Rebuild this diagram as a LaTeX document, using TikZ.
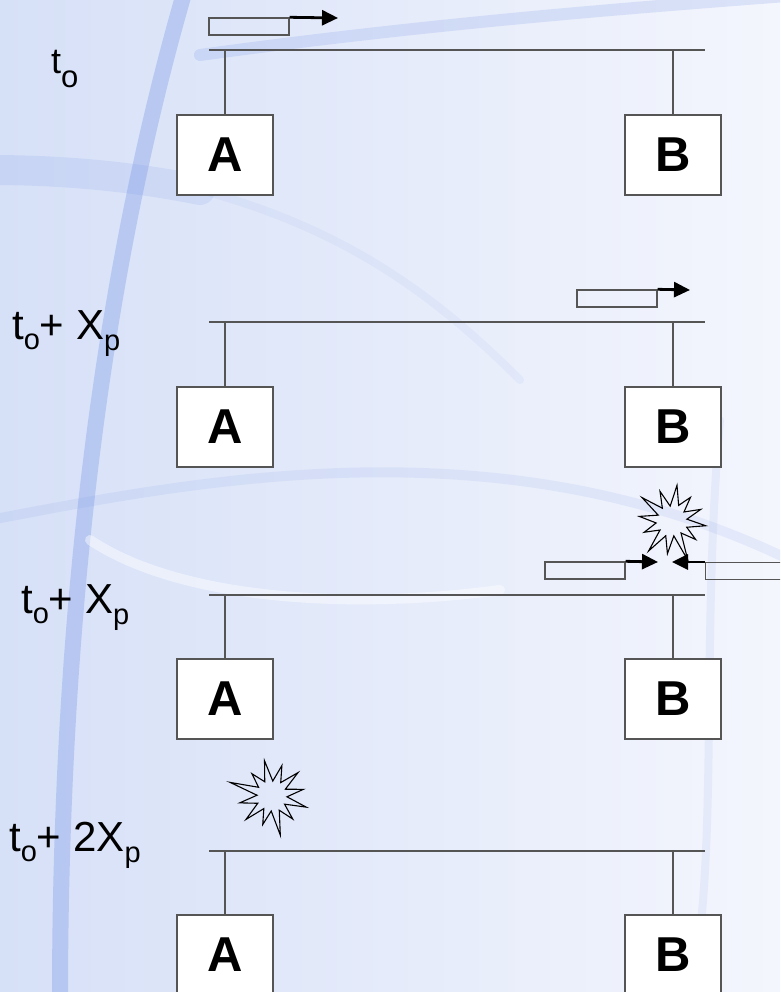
\documentclass[tikz,border=0pt]{standalone}
\usepackage{fontspec}
\setmainfont{Liberation Sans}
\usetikzlibrary{arrows.meta}
\definecolor{bgl}{RGB}{214,224,247}
\definecolor{bgr}{RGB}{244,246,253}
\definecolor{swoosh}{RGB}{120,150,230}
\definecolor{ln}{RGB}{85,85,85}
\begin{document}
\begin{tikzpicture}[x=1pt,y=-1pt,
  station/.style={draw=ln,line width=1.4pt,fill=white,minimum width=96pt,minimum height=80pt,inner sep=0pt,font=\fontsize{49}{52}\selectfont\bfseries},
  bus/.style={draw=ln,line width=1.4pt},
  pkt/.style={draw=ln,line width=1.4pt,minimum width=80pt,minimum height=17pt,inner sep=0pt},
  arr/.style={line width=2.8pt,-{Triangle[length=16pt,width=15pt]}},
  boom/.style={draw=black,line width=1.1pt,line join=miter},
  lbl/.style={anchor=base west,inner sep=0pt,font=\fontsize{42}{46}\selectfont}
]
\useasboundingbox (0,0) rectangle (780,992);
\clip (0,0) rectangle (780,992);
% background
\shade[left color=bgl,right color=bgr] (0,0) rectangle (780,992);
\begin{scope}[line cap=round]
\draw[swoosh,opacity=0.35,line width=16pt] (185,-10) .. controls (95,300) and (60,650) .. (60,1000);
\draw[swoosh,opacity=0.2,line width=12pt] (200,55) .. controls (420,25) and (600,10) .. (800,-5);
\draw[swoosh,opacity=0.15,line width=30pt] (-10,170) .. controls (80,170) and (150,180) .. (200,190);
\draw[swoosh,opacity=0.08,line width=8pt] (200,190) .. controls (350,230) and (440,300) .. (520,380);
\draw[swoosh,opacity=0.12,line width=10pt] (-10,520) .. controls (200,480) and (500,420) .. (790,560);
\draw[swoosh,opacity=0.1,line width=8pt] (720,420) .. controls (700,650) and (720,850) .. (690,1000);
\draw[white,opacity=0.45,line width=10pt] (90,540) .. controls (180,600) and (350,610) .. (500,590);
\end{scope}

% ---------- panel 1 ----------
\node[lbl] (l1) at (51,74) {\fontsize{36}{38}\selectfont t\raisebox{-14pt}{\fontsize{31}{32}\selectfont o}};
\coordinate (b1w) at (209,50); \coordinate (b1e) at (705,50);
\draw[bus] (b1w) -- (b1e);
\node[station] (A1) at (225,155) {A};
\node[station] (B1) at (673,155) {B};
\draw[bus] (A1.north) -- (A1.north |- b1w);
\draw[bus] (B1.north) -- (B1.north |- b1w);
\node[pkt] (p1) at (249,26.5) {};
\coordinate (p1t) at (338,18);
\draw[arr] (p1.north east) -- (p1t);

% ---------- panel 2 ----------
\node[lbl] (l2) at (12,339) {t\raisebox{-10pt}{\fontsize{29}{30}\selectfont o}+ X\raisebox{-11pt}{\fontsize{29}{30}\selectfont p}};
\coordinate (b2w) at (209,322); \coordinate (b2e) at (705,322);
\draw[bus] (b2w) -- (b2e);
\node[station] (A2) at (225,427) {A};
\node[station] (B2) at (673,427) {B};
\draw[bus] (A2.north) -- (A2.north |- b2w);
\draw[bus] (B2.north) -- (B2.north |- b2w);
\node[pkt] (p2) at (617,298.5) {};
\coordinate (p2t) at (690,290);
\draw[arr] (p2.north east) -- (p2t);

% ---------- panel 3 ----------
\node[lbl] (l3) at (21,613) {t\raisebox{-10pt}{\fontsize{29}{30}\selectfont o}+ X\raisebox{-11pt}{\fontsize{29}{30}\selectfont p}};
\coordinate (b3w) at (209,595); \coordinate (b3e) at (705,595);
\draw[bus] (b3w) -- (b3e);
\node[station] (A3) at (225,699) {A};
\node[station] (B3) at (673,699) {B};
\draw[bus] (A3.north) -- (A3.north |- b3w);
\draw[bus] (B3.north) -- (B3.north |- b3w);
\node[pkt] (p3) at (585,570.5) {};
\coordinate (p3t) at (658,562);
\draw[arr] (p3.north east) -- (p3t);
\node[pkt,minimum width=100pt,anchor=north west] (p4) at (705,562) {};
\coordinate (p4t) at (672,562);
\draw[arr] (p4.north west) -- (p4t);
\coordinate (x1) at (672,521);
\draw[boom,shift={(x1)},rotate=-8] (0:34) -- (15:16) -- (30:30) -- (45:15) -- (60:42) -- (75:15) -- (90:33) -- (105:16) -- (120:38) -- (135:15) -- (150:30) -- (165:16) -- (180:33) -- (195:15) -- (210:38) -- (225:16) -- (240:32) -- (255:15) -- (270:36) -- (285:17) -- (300:30) -- (315:15) -- (330:31) -- (345:15) -- cycle;

% ---------- panel 4 ----------
\node[lbl] (l4) at (9,851) {t\raisebox{-10pt}{\fontsize{29}{30}\selectfont o}+ 2X\raisebox{-11pt}{\fontsize{29}{30}\selectfont p}};
\coordinate (b4w) at (209,851); \coordinate (b4e) at (705,851);
\draw[bus] (b4w) -- (b4e);
\node[station] (A4) at (225,955) {A};
\node[station] (B4) at (673,955) {B};
\draw[bus] (A4.north) -- (A4.north |- b4w);
\draw[bus] (B4.north) -- (B4.north |- b4w);
\coordinate (x2) at (272,796);
\draw[boom,shift={(x2)},rotate=12] (0:32) -- (15:15) -- (30:36) -- (45:15) -- (60:31) -- (75:16) -- (90:40) -- (105:15) -- (120:30) -- (135:15) -- (150:35) -- (165:16) -- (180:33) -- (195:15) -- (210:44) -- (225:16) -- (240:30) -- (255:16) -- (270:36) -- (285:15) -- (300:32) -- (315:16) -- (330:35) -- (345:15) -- cycle;
\end{tikzpicture}
\end{document}
